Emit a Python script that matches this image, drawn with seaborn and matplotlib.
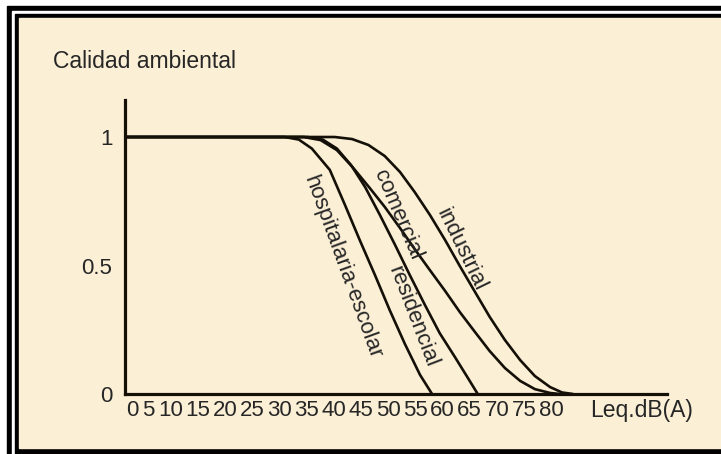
import seaborn as sns
import pandas as pd
import matplotlib.pyplot as plt
from matplotlib.patches import Rectangle

# curves (x in dB on the printed scale, y = calidad)
hosp_x = [0, 31.0, 33.6, 36.0, 39.3, 42.1, 44.8, 47.6, 50.3, 53.1, 55.9, 58.1]
hosp_y = [1, 1, 0.990, 0.955, 0.872, 0.735, 0.599, 0.463, 0.327, 0.195, 0.074, 0]

res_x = [0, 35.2, 38.0, 40.6, 43.2, 45.8, 48.5, 51.3, 54.0, 56.8, 59.5, 62.3, 64.7, 66.5]
res_y = [1, 1, 0.990, 0.955, 0.891, 0.805, 0.697, 0.580, 0.463, 0.346, 0.237, 0.144, 0.062, 0]

com_x = [0, 34.5, 37.6, 40.6, 43.6, 46.7, 49.4, 52.2, 54.9, 57.7, 60.5, 63.2, 66.0, 68.7,
         71.5, 74.3, 77.0, 79.8, 81.6]
com_y = [1, 1, 0.988, 0.949, 0.880, 0.800, 0.728, 0.646, 0.564, 0.482, 0.401, 0.319, 0.241,
         0.167, 0.101, 0.051, 0.019, 0.004, 0]

ind_x = [0, 40.2, 43.4, 46.4, 49.4, 52.2, 54.9, 57.7, 60.5, 63.2, 66.0, 68.7, 71.5, 74.3,
         77.0, 79.8, 82.0, 84.0]
ind_y = [1, 1, 0.992, 0.969, 0.926, 0.864, 0.786, 0.697, 0.599, 0.498, 0.397, 0.300, 0.210,
         0.132, 0.070, 0.027, 0.006, 0]

zonas = ['hospitalaria-escolar', 'residencial', 'comercial', 'industrial']
x_labels = ['0', '5', '10', '15', '20', '25', '30', '35', '40', '45', '50', '55', '60',
            '65', '70', '75', '80']
y_ticks = [0, 0.5, 1]
y_labels = ['0', '0.5', '1']

frames = []
for z, xs, ys in zip(zonas, [hosp_x, res_x, com_x, ind_x], [hosp_y, res_y, com_y, ind_y]):
    frames.append(pd.DataFrame({'Leq': xs, 'calidad': ys, 'zona': z}))
df = pd.concat(frames, ignore_index=True)

sns.set_style('white')
plt.rcParams['font.family'] = ['Liberation Sans', 'DejaVu Sans']
narrow = ['Liberation Sans Narrow', 'Liberation Sans', 'DejaVu Sans']

W, H = 721, 454
fig = plt.figure(figsize=(W / 100, H / 100), dpi=100)
fig.patch.set_facecolor('white')


def box(x0, y0, x1, y1, color):
    fig.patches.append(Rectangle((x0 / W, 1 - y1 / H), (x1 - x0) / W, (y1 - y0) / H,
                                 transform=fig.transFigure, color=color, zorder=-10))


# double frame and cream panel
box(7, 6, 740, 470, 'black')
box(12, 11, 740, 470, 'white')
box(15, 14, 740, 470, 'black')
box(19, 18, 740, 448, '#fbefd6')

ax = fig.add_axes([125 / W, 1 - 394 / H, (667 - 125) / W, (394 - 100) / H])
ax.patch.set_alpha(0)

sns.lineplot(data=df, x='Leq', y='calidad', hue='zona', palette=['#141008'] * 4,
             sort=False, estimator=None, linewidth=1.9, legend=False, ax=ax)

ax.set_xlim(1.64, 101.3)
ax.set_ylim(0, 1.144)
sns.despine(ax=ax)
for s in ['left', 'bottom']:
    ax.spines[s].set_linewidth(2.3)
    ax.spines[s].set_color('#141008')

# printed scale: "0" and "5" are squeezed in front of the rest
xpos = [2.9, 6.0] + [float(v) for v in x_labels[2:]]
ax.set_xticks(xpos)
ax.set_xticklabels(x_labels, fontsize=16, family=narrow)
ax.set_yticks(y_ticks)
ax.set_yticklabels(y_labels, fontsize=16)
ax.tick_params(axis='x', length=0, pad=4)
ax.tick_params(axis='y', length=0, pad=9)
ax.set_xlabel('')
ax.set_ylabel('')

fig.text(53 / W, 1 - 62 / H, 'Calidad ambiental', fontsize=16.5, ha='left', va='center')
fig.text(590 / W, 1 - 411 / H, 'Leq.dB(A)', fontsize=16.5, ha='left', va='center')

for z, x, y, r in [('hospitalaria-escolar', 41.6, 0.494, -70),
                   ('residencial', 54.6, 0.300, -69),
                   ('comercial', 51.8, 0.697, -67),
                   ('industrial', 63.4, 0.562, -64)]:
    ax.text(x, y, z, fontsize=16, rotation=r, rotation_mode='anchor',
            ha='center', va='center')

fig.savefig('out.png', dpi=100)
